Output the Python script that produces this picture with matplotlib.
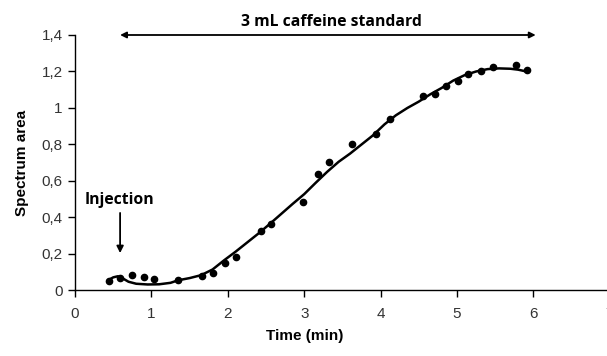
import matplotlib
matplotlib.use("Agg")
import matplotlib.pyplot as plt

# measured points (time in min, spectrum area)
time_pts = [0.45, 0.59, 0.74, 0.90, 1.04, 1.35, 1.66, 1.81, 1.96, 2.11,
            2.44, 2.57, 2.99, 3.18, 3.33, 3.63, 3.94, 4.12, 4.55, 4.71,
            4.86, 5.01, 5.15, 5.31, 5.47, 5.77, 5.92]
area_pts = [0.054, 0.071, 0.083, 0.076, 0.062, 0.058, 0.078, 0.098, 0.152, 0.185,
            0.324, 0.362, 0.485, 0.638, 0.706, 0.802, 0.858, 0.942, 1.065, 1.079,
            1.119, 1.146, 1.188, 1.201, 1.224, 1.233, 1.210]

# trend line
time_fit = [0.44, 0.50, 0.56, 0.63, 0.70, 0.80, 0.95, 1.10, 1.25, 1.35,
            1.50, 1.65, 1.80, 1.95, 2.10, 2.25, 2.40, 2.55, 2.70, 2.85,
            3.00, 3.15, 3.30, 3.45, 3.60, 3.75, 3.90, 4.05, 4.20, 4.35,
            4.50, 4.65, 4.80, 4.95, 5.10, 5.25, 5.40, 5.55, 5.70, 5.80, 5.93]
area_fit = [0.058, 0.072, 0.078, 0.065, 0.048, 0.037, 0.033, 0.034, 0.042, 0.056,
            0.068, 0.084, 0.115, 0.165, 0.212, 0.262, 0.312, 0.365, 0.420, 0.475,
            0.528, 0.590, 0.650, 0.705, 0.750, 0.800, 0.850, 0.910, 0.960, 1.000,
            1.035, 1.075, 1.110, 1.150, 1.180, 1.200, 1.213, 1.217, 1.215, 1.210, 1.198]

xticks = [0, 1, 2, 3, 4, 5, 6, 7]
yticks = [0, 0.2, 0.4, 0.6, 0.8, 1.0, 1.2, 1.4]
ytick_labels = ["0", "0,2", "0,4", "0,6", "0,8", "1", "1,2", "1,4"]

plt.rcParams['font.family'] = ['Liberation Sans', 'DejaVu Sans']

fig = plt.figure(figsize=(6.07, 3.56), dpi=100)
ax = fig.add_axes([0.1236, 0.184, 0.881, 0.7177])

ax.plot(time_fit, area_fit, color='black', lw=1.8, zorder=2)
ax.plot(time_pts, area_pts, 'o', color='black', ms=4.5, zorder=3)

ax.set_xlim(0, 7)
ax.set_ylim(0, 1.4)
ax.set_xticks(xticks)
ax.set_yticks(yticks)
ax.set_yticklabels(ytick_labels)
ax.tick_params(axis='both', direction='out', length=5, width=1, labelsize=11,
               color='black', labelcolor='#333333')
ax.tick_params(axis='x', pad=7)
ax.tick_params(axis='y', pad=4)

for side in ['top', 'right']:
    ax.spines[side].set_visible(False)
for side in ['left', 'bottom']:
    ax.spines[side].set_linewidth(1)
    ax.spines[side].set_color('black')

ax.set_xlabel('Time (min)', fontsize=11, fontweight='bold', labelpad=6)
ax.xaxis.label.set_x(3 / 7)
ax.set_ylabel('Spectrum area', fontsize=11, fontweight='bold', labelpad=9)

# double arrow for the caffeine standard
ax.annotate('', xy=(0.59, 1.4), xytext=(6.03, 1.4),
            arrowprops=dict(arrowstyle='<|-|>', color='black', lw=1.3,
                            mutation_scale=9, shrinkA=0, shrinkB=0),
            annotation_clip=False)
ax.text(3.36, 1.47, '3 mL caffeine standard', ha='center', va='center',
        fontsize=11.3, fontweight='bold', family='Open Sans')

# injection marker
ax.text(0.58, 0.496, 'Injection', ha='center', va='center',
        fontsize=11.3, fontweight='bold', family='Open Sans')
ax.annotate('', xy=(0.59, 0.205), xytext=(0.59, 0.425),
            arrowprops=dict(arrowstyle='-|>', color='black', lw=1.3,
                            mutation_scale=10, shrinkA=0, shrinkB=0))

fig.savefig('out.png', dpi=100)
